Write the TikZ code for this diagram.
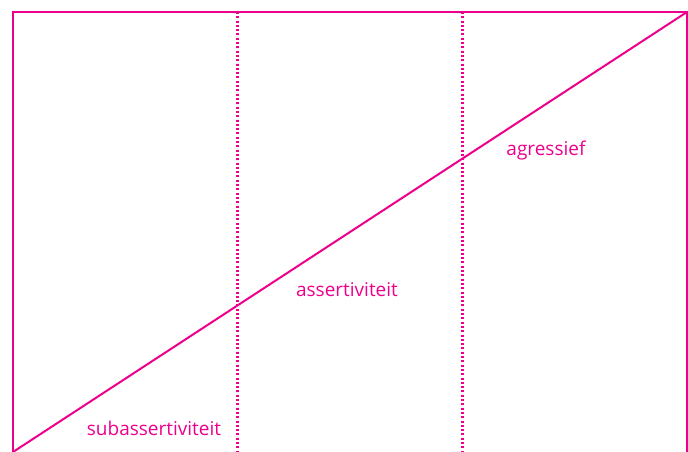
\documentclass[tikz,border=0pt]{standalone}
\usepackage{fontspec}
\setmainfont{Open Sans}
\definecolor{roze}{RGB}{236,0,140}
\tikzset{
    rand/.style={draw=roze, line width=2.2pt},
    stip/.style={draw=roze, line width=2.2pt, dash pattern=on 2pt off 2.3pt},
    label/.style={text=roze, font=\fontsize{19}{22}\selectfont, inner sep=0pt}
}
\begin{document}
\begin{tikzpicture}[x=1pt, y=-1pt]
    \useasboundingbox (0,0) rectangle (688,452);
    \clip (0,0) rectangle (688,452);
    \draw[rand] (13,12) rectangle (687,470);
    \draw[stip] (237.5,12) -- (237.5,452);
    \draw[stip] (462.5,12) -- (462.5,452);
    \coordinate (lo) at (13,452);
    \coordinate (rb) at (687,12);
    \draw[roze, line width=2pt] (lo) -- (rb);
    \node[label] (sub) at (154,428) {subassertiviteit};
    \node[label] (ass) at (347,290) {assertiviteit};
    \node[label] (agr) at (546,151) {agressief};
\end{tikzpicture}
\end{document}
